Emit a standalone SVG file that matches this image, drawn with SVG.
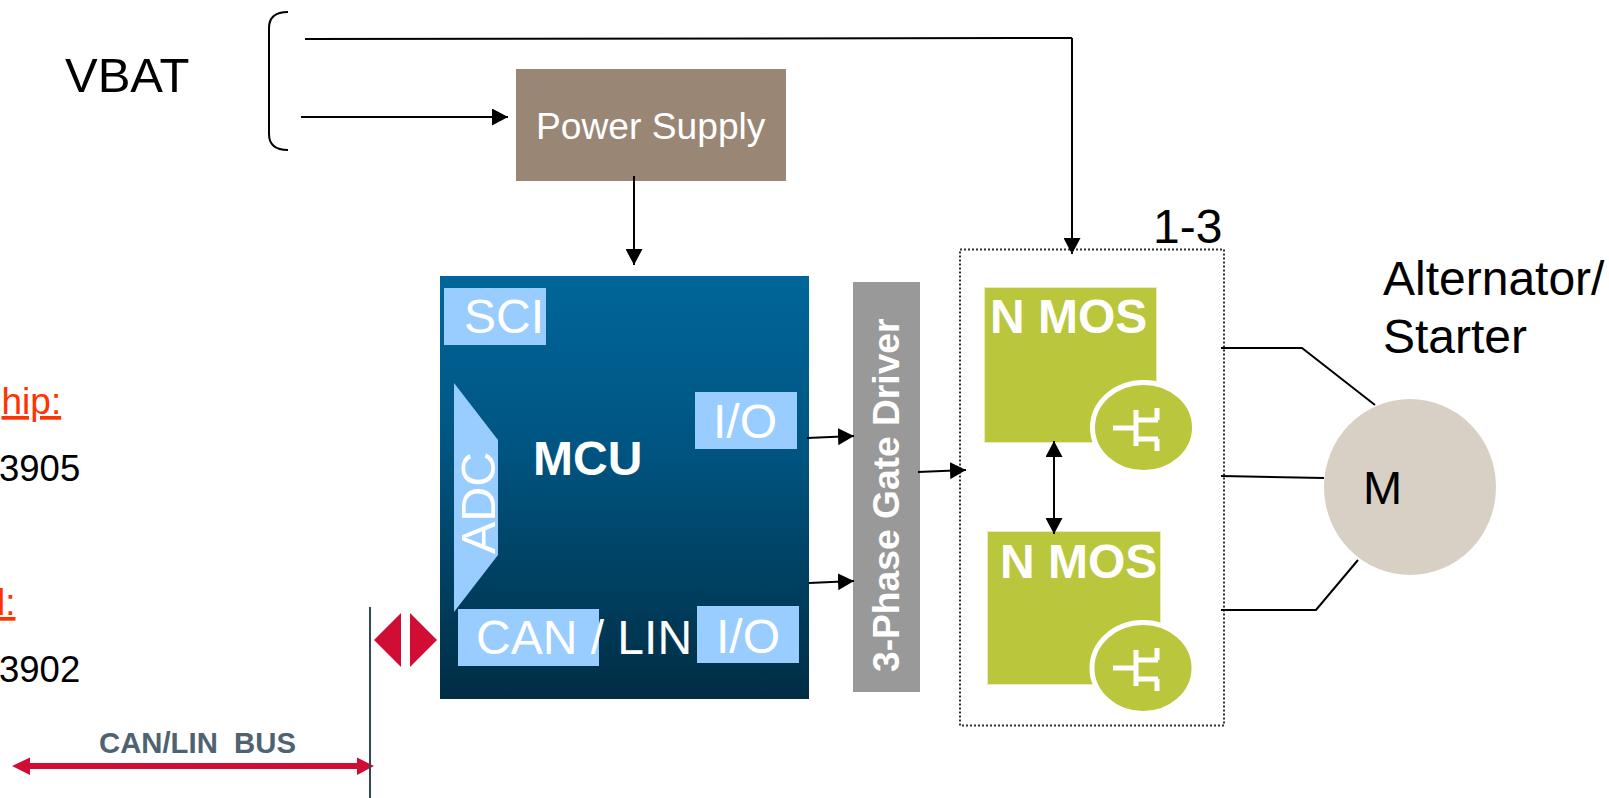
<svg xmlns="http://www.w3.org/2000/svg" width="1609" height="798" viewBox="0 0 1609 798">
<style>
text{font-family:"Liberation Sans",Arial,sans-serif;white-space:pre}
.w{fill:#fff;font-size:48px}
.wb{fill:#fff;font-size:48px;font-weight:bold}
.k{fill:#000;font-size:48px}
.s{fill:#000;font-size:36.500px}
.r{fill:#ff3300;font-size:37px;text-decoration:underline}
.blue{fill:#99ccff}
.green{fill:#bac63c;stroke:#bac63c;stroke-opacity:.45;stroke-width:1.500}
.ln{fill:none;stroke:#000;stroke-width:2}
.ring{fill:#bac63c;stroke:#fff;stroke-width:5}
.sym{fill:none;stroke:#fff;stroke-width:5}
</style>
<defs>
<linearGradient id="mcuGrad" x1="0" y1="0" x2="0" y2="1">
<stop offset="0" stop-color="#006699"/><stop offset="0.4" stop-color="#005582"/><stop offset="1" stop-color="#002d44"/>
</linearGradient>
<marker id="ah" markerUnits="userSpaceOnUse" markerWidth="17" markerHeight="17" refX="16" refY="8.500" orient="auto-start-reverse">
<path d="M0,0 L16,8.500 L0,17 Z" fill="#000"/>
</marker>
<g id="mosSym">
<path class="sym" d="M-31,0 H-9 M-8,-18 V18 M-8,-8 H14 M13,-20 V-8 M-8,11 H14 M13,11 V23"/>
</g>
</defs>
<g id="vbat"><text class="k" x="65" y="92" style="font-size:49px">VBAT</text>
<path class="ln" d="M288,12 Q269,12 269,28 V134 Q269,150 288,150"/></g>
<g id="power-supply"><rect x="516" y="69" width="270" height="112" fill="#998675"/>
<text class="w" x="536" y="139" style="font-size:37.200px">Power Supply</text></g>
<g id="mcu"><rect x="440" y="276" width="369" height="423" fill="url(#mcuGrad)"/>
<rect class="blue" x="444" y="288" width="102" height="57"/>
<text class="w" x="464" y="333">SCI</text>
<path class="blue" d="M454,383 L498,440 V555 L454,612 Z"/>
<text class="w" transform="translate(495,554) rotate(-90) scale(1.01,1)">ADC</text>
<text class="wb" x="533" y="475">MCU</text>
<rect class="blue" x="695" y="392" width="102" height="57"/>
<text class="w" x="713" y="438">I/O</text>
<rect class="blue" x="458" y="609" width="141" height="57"/>
<text class="w" x="476" y="654">CAN / LIN</text>
<rect class="blue" x="697" y="606" width="102" height="57"/>
<text class="w" x="716" y="653">I/O</text></g>
<g id="gate-driver"><rect x="853" y="282" width="67" height="410" fill="#999"/>
<text class="wb" transform="translate(899,672) rotate(-90)" style="font-size:37.200px">3-Phase Gate Driver</text></g>
<g id="fet-box"><rect x="960" y="249.500" width="264" height="476" fill="none" stroke="#333" stroke-width="2" stroke-dasharray="2 2"/>
<text class="k" x="1153" y="243">1-3</text></g>
<g id="nmos-high"><rect class="green" x="985" y="288" width="171" height="154"/>
<text class="wb" x="990" y="333">N MOS</text>
<ellipse class="ring" cx="1143.500" cy="427.500" rx="51" ry="45"/>
<use href="#mosSym" x="1144" y="428"/></g>
<g id="nmos-low"><rect class="green" x="988" y="532" width="172" height="152"/>
<text class="wb" x="1000" y="578">N MOS</text>
<ellipse class="ring" cx="1143" cy="668" rx="51" ry="45.500"/>
<use href="#mosSym" x="1144" y="668"/></g>
<g id="motor"><ellipse cx="1410" cy="487" rx="86" ry="88" fill="#d8d0c4"/>
<text class="k" x="1363" y="504" style="font-size:47px">M</text></g>
<g id="motor-label"><text class="k" x="1383" y="295">Alternator/</text>
<text class="k" x="1383" y="353">Starter</text></g>
<g id="chip-notes">
<text class="r" x="1.500" y="414">hip:</text>
<text class="s" x="-1" y="481">3905</text>
<text class="r" x="-3" y="615">l:</text>
<text class="s" x="-1" y="682">3902</text></g>
<g id="bus"><text x="99" y="753" fill="#4f6272" font-size="29.300" font-weight="bold">CAN/LIN  BUS</text>
<path d="M374,640 L401,613 V667 Z M410,613 L437,640 L410,667 Z" fill="#d00d35"/>
<path d="M12,766 L30,757.500 V763 H357 V757.500 L374,766 L357,775 V769 H30 V775 Z" fill="#d00d35"/>
<line x1="370" y1="607" x2="370" y2="798" stroke="#34465c" stroke-width="2"/></g>
<g id="connectors">
<path class="ln" d="M305,39 L1072,38"/>
<path class="ln" d="M1072,38 V254" marker-end="url(#ah)"/>
<path class="ln" d="M301,117 H508" marker-end="url(#ah)"/>
<path class="ln" d="M634,176 V265" marker-end="url(#ah)"/>
<path class="ln" d="M807,438 L854,436" marker-end="url(#ah)"/>
<path class="ln" d="M809,583 L854,581" marker-end="url(#ah)"/>
<path class="ln" d="M918,472 L966,470" marker-end="url(#ah)"/>
<path class="ln" d="M1054,441 V534" marker-start="url(#ah)" marker-end="url(#ah)"/>
<path class="ln" d="M1221,348 H1302 L1375,405"/>
<path class="ln" d="M1221,476 L1324,478"/>
<path class="ln" d="M1221,610 H1316 L1358,560"/>
</g>
</svg>
